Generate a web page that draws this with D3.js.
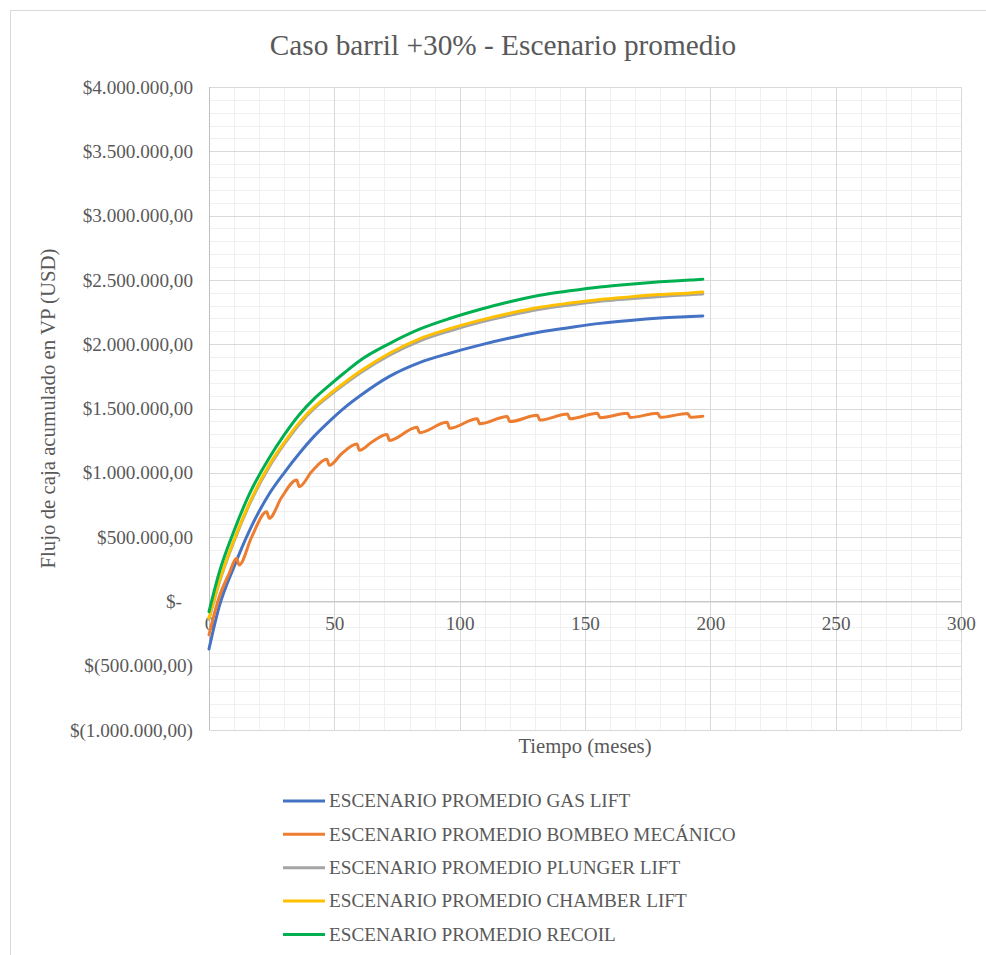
<!DOCTYPE html>
<html>
<head>
<meta charset="utf-8">
<script src="https://cdn.jsdelivr.net/npm/d3@7"></script>
<style>
  body { margin: 0; background: #fff; }
  text { font-family: "Liberation Serif", "Times New Roman", serif; fill: #595959; }
</style>
</head>
<body>
<div id="chart"></div>
<script>
// months (shared by the smooth series)
let months = [0, 4, 10, 16, 24, 30, 36, 42, 48, 54, 60, 72, 84, 96, 108, 120, 132, 144, 156, 168, 180, 192, 197];

// values in thousands of USD
let gasLift  = [-370, -45, 270, 545, 835, 1000, 1150, 1285, 1400, 1505, 1595, 1750, 1857, 1930, 1993, 2048, 2095, 2130, 2162, 2185, 2203, 2215, 2220];
let plunger  = [-140, 140, 468, 748, 1045, 1222, 1376, 1500, 1598, 1688, 1772, 1915, 2025, 2103, 2170, 2225, 2272, 2305, 2333, 2353, 2371, 2385, 2391];
let chamber  = [-130, 150, 480, 760, 1060, 1235, 1390, 1512, 1610, 1700, 1785, 1930, 2042, 2120, 2185, 2240, 2287, 2320, 2348, 2368, 2386, 2399, 2406];
let recoil   = [-80, 220, 550, 830, 1115, 1295, 1452, 1577, 1680, 1778, 1870, 2005, 2117, 2200, 2270, 2330, 2380, 2415, 2445, 2467, 2485, 2499, 2505];

// bombeo mecanico has a yearly drop, so it gets its own months
let bombeoMonths = [0, 4, 8, 11, 12, 17, 23, 24, 29, 35, 36, 41, 47, 48, 53, 59, 60, 65, 71, 72, 83, 84, 95, 96, 107, 108, 119, 120, 131, 132, 143, 144, 155, 156, 167, 168, 179, 180, 191, 192, 197];
let bombeo = [-260, 30, 215, 335, 283, 500, 698, 646, 810, 944, 892, 1010, 1105, 1058, 1150, 1224, 1175, 1240, 1297, 1252, 1355, 1312, 1393, 1346, 1421, 1381, 1438, 1398, 1447, 1410, 1457, 1420, 1463, 1429, 1463, 1430, 1463, 1431, 1462, 1432, 1440];

let seriesNames = [
  "ESCENARIO PROMEDIO GAS LIFT",
  "ESCENARIO PROMEDIO BOMBEO MECÁNICO",
  "ESCENARIO PROMEDIO PLUNGER LIFT",
  "ESCENARIO PROMEDIO CHAMBER LIFT",
  "ESCENARIO PROMEDIO RECOIL"
];
let seriesColors = ["#4472C4", "#ED7D31", "#A5A5A5", "#FFC000", "#00B050"];

let yTickLabels = ["$(1.000.000,00)", "$(500.000,00)", "$-", "$500.000,00", "$1.000.000,00",
  "$1.500.000,00", "$2.000.000,00", "$2.500.000,00", "$3.000.000,00", "$3.500.000,00", "$4.000.000,00"];
let xTickLabels = ["0", "50", "100", "150", "200", "250", "300"];

let width = 986, height = 955;
let plot = {left: 209, right: 961, top: 87, bottom: 730};

let svg = d3.select("#chart")
.append("svg")
.attr("width", width)
.attr("height", height);

// chart frame
svg.append("rect")
.attr("x", 10.5).attr("y", 10.5)
.attr("width", 1000).attr("height", 1000)
.attr("fill", "none")
.attr("stroke", "#d9d9d9");

let x = d3.scaleLinear().domain([0, 300]).range([plot.left, plot.right]);
let y = d3.scaleLinear().domain([-1000000, 4000000]).range([plot.bottom, plot.top]);

let yTickValues = yTickLabels.map((d, i) => -1000000 + i * 500000);

// minor grid
let grid = svg.append("g");
grid.selectAll(".hmin")
.data(d3.range(-1000000, 4000001, 100000))
.enter().append("line")
.attr("x1", plot.left).attr("x2", plot.right)
.attr("y1", d => Math.round(y(d)) + 0.5).attr("y2", d => Math.round(y(d)) + 0.5)
.attr("stroke", "#f0f0f0");
grid.selectAll(".vmin")
.data(d3.range(0, 301, 10))
.enter().append("line")
.attr("y1", plot.top).attr("y2", plot.bottom)
.attr("x1", d => Math.round(x(d)) + 0.5).attr("x2", d => Math.round(x(d)) + 0.5)
.attr("stroke", "#f0f0f0");

// major grid
grid.selectAll(".hmaj")
.data(yTickValues)
.enter().append("line")
.attr("x1", plot.left).attr("x2", plot.right)
.attr("y1", d => Math.round(y(d)) + 0.5).attr("y2", d => Math.round(y(d)) + 0.5)
.attr("stroke", "#d9d9d9");
grid.selectAll(".vmaj")
.data(d3.range(0, 301, 50))
.enter().append("line")
.attr("y1", plot.top).attr("y2", plot.bottom)
.attr("x1", d => Math.round(x(d)) + 0.5).attr("x2", d => Math.round(x(d)) + 0.5)
.attr("stroke", "#d9d9d9");

// y axis
let yAxis = svg.append("g")
.attr("transform", "translate(193,0)")
.call(d3.axisLeft(y).tickValues(yTickValues).tickSize(0).tickPadding(0)
  .tickFormat((d, i) => yTickLabels[i]));
yAxis.select(".domain").remove();
yAxis.selectAll("text")
.attr("font-size", "19.2px")
.attr("fill", "#595959")
.attr("dx", d => d === 0 ? -11 : 0);

// x axis crosses at zero
let xAxis = svg.append("g")
.attr("transform", "translate(0," + y(0) + ")")
.call(d3.axisBottom(x).tickValues([0, 50, 100, 150, 200, 250, 300]).tickSize(0).tickPadding(15)
  .tickFormat((d, i) => xTickLabels[i]));
xAxis.select(".domain").attr("stroke", "#bfbfbf");
xAxis.selectAll("text")
.attr("font-size", "19.2px")
.attr("fill", "#595959");

svg.append("line")
.attr("x1", plot.left + 0.5).attr("x2", plot.left + 0.5)
.attr("y1", plot.top).attr("y2", plot.bottom)
.attr("stroke", "#bfbfbf");

// lines
let line = d3.line()
.x(d => x(d[0]))
.y(d => y(d[1] * 1000))
.curve(d3.curveMonotoneX);

let seriesData = [
  months.map((m, i) => [m, gasLift[i]]),
  bombeoMonths.map((m, i) => [m, bombeo[i]]),
  months.map((m, i) => [m, plunger[i]]),
  months.map((m, i) => [m, chamber[i]]),
  months.map((m, i) => [m, recoil[i]])
];

svg.append("g")
.selectAll("path")
.data(seriesData)
.enter().append("path")
.attr("d", line)
.attr("fill", "none")
.attr("stroke", (d, i) => seriesColors[i])
.attr("stroke-width", 3)
.attr("stroke-linejoin", "round")
.attr("stroke-linecap", "round");

// titles
svg.append("text")
.attr("x", 503).attr("y", 55)
.attr("text-anchor", "middle")
.attr("font-size", "29.3px")
.text("Caso barril +30% - Escenario promedio");

svg.append("text")
.attr("x", (plot.left + plot.right) / 2).attr("y", 753)
.attr("text-anchor", "middle")
.attr("font-size", "20.7px")
.text("Tiempo (meses)");

svg.append("text")
.attr("transform", "translate(55," + (plot.top + plot.bottom) / 2 + ") rotate(-90)")
.attr("text-anchor", "middle")
.attr("font-size", "20.8px")
.text("Flujo de caja acumulado en VP (USD)");

// legend
let legend = svg.append("g")
.selectAll("g")
.data(seriesNames)
.enter().append("g")
.attr("transform", (d, i) => "translate(283," + (801 + i * 33.35) + ")");

legend.append("line")
.attr("x1", 0).attr("x2", 42)
.attr("stroke", (d, i) => seriesColors[i])
.attr("stroke-width", 3);

legend.append("text")
.attr("x", 46).attr("y", 6.3)
.attr("font-size", "19.2px")
.text(d => d);
</script>
</body>
</html>
